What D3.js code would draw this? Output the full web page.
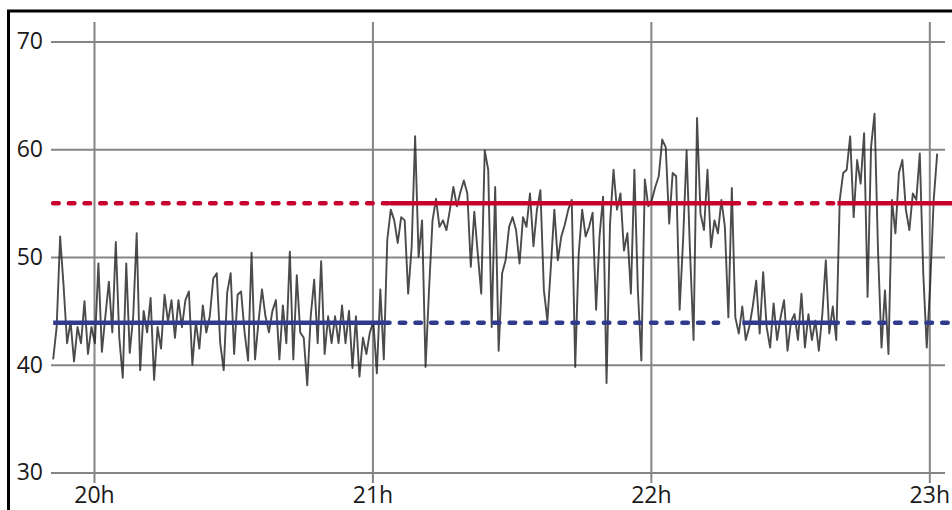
<!DOCTYPE html>
<html>
<head>
<meta charset="utf-8">
<script src="https://cdn.jsdelivr.net/npm/d3@7"></script>
<style>
  body { margin: 0; background: #fff; }
  svg { display: block; }
  .grid line { stroke: #858585; stroke-width: 2; }
  .grid text { fill: #1a1a1a; font-size: 23px; font-family: "Open Sans", sans-serif; }
</style>
</head>
<body>
<svg id="chart"></svg>
<script>
// ---------------- data ----------------
// minutes after 20:00, one reading every 45 s starting at 19:51:12
const startMinute = -8.8;
const stepMinute = 0.75;
const levels = [
  40.5, 43.5, 51.9, 47.3, 42.0, 44.0, 40.3, 43.5, 42.0, 45.9,
  41.0, 43.5, 42.0, 49.4, 41.2, 44.5, 47.7, 43.0, 51.4, 42.5,
  38.8, 49.4, 41.1, 44.5, 52.2, 39.5, 45.0, 43.0, 46.2, 38.6,
  43.5, 41.5, 46.5, 44.0, 46.0, 42.5, 46.0, 43.5, 46.0, 46.8,
  40.0, 44.0, 41.5, 45.5, 43.0, 44.5, 48.0, 48.5, 42.0, 39.5,
  46.7, 48.5, 41.0, 46.5, 46.8, 43.0, 40.4, 50.4, 40.5, 44.0,
  47.0, 44.5, 43.0, 45.0, 46.0, 40.5, 45.5, 42.0, 50.5, 40.5,
  48.3, 43.0, 42.5, 38.1, 44.5, 47.9, 42.0, 49.6, 41.0, 44.5,
  42.0, 44.5, 42.0, 45.5, 42.0, 45.0, 39.7, 44.5, 38.9, 42.5,
  41.0, 43.0, 44.0, 39.2, 47.0, 40.5, 51.6, 54.4, 53.4, 51.3,
  53.7, 53.4, 46.6, 50.9, 61.2, 50.0, 53.4, 39.8, 47.0, 53.4,
  55.4, 52.8, 53.4, 52.5, 54.4, 56.5, 54.7, 56.0, 57.1, 55.9,
  49.1, 54.2, 50.3, 46.6, 59.9, 58.1, 43.5, 56.5, 41.3, 48.5,
  49.7, 52.8, 53.7, 52.5, 49.4, 53.7, 52.8, 55.9, 51.0, 54.4,
  56.2, 46.9, 44.1, 49.1, 54.4, 49.7, 51.9, 53.0, 54.4, 55.3,
  39.8, 50.3, 54.4, 51.9, 52.8, 54.1, 45.1, 52.0, 55.6, 38.3,
  53.1, 58.1, 54.4, 55.9, 50.6, 52.2, 46.6, 58.1, 46.9, 40.4,
  57.2, 54.7, 55.3, 56.5, 57.5, 60.9, 60.2, 53.1, 57.8, 57.5,
  45.1, 51.6, 59.9, 50.3, 42.3, 62.9, 54.0, 52.5, 58.1, 50.9,
  53.4, 52.2, 55.3, 52.8, 44.4, 56.4, 44.4, 42.9, 45.4, 42.3,
  43.5, 45.4, 47.8, 42.9, 48.6, 43.5, 41.6, 45.7, 42.3, 44.4,
  46.0, 41.3, 44.0, 44.7, 42.3, 46.6, 41.6, 44.7, 42.3, 44.1,
  41.3, 44.7, 49.7, 42.9, 45.4, 42.3, 55.3, 57.8, 58.1, 61.2,
  53.7, 59.0, 56.8, 61.5, 46.3, 60.2, 63.3, 50.6, 41.6, 46.9,
  41.0, 55.3, 52.2, 57.8, 59.0, 54.4, 52.5, 55.9, 55.3, 59.6,
  48.5, 41.6, 47.5, 55.3, 59.6
];

// reference levels: [value, from minute, to minute, dashed]
const upperLevel = [
  [55, -8.8, 63.8, true],
  [55, 63.8, 137.8, false],
  [55, 137.8, 160.2, true],
  [55, 160.2, 185, false]
];
const lowerLevel = [
  [43.9, -8.8, 62.5, false],
  [43.9, 62.5, 134.5, true],
  [43.9, 139.7, 159.1, false],
  [43.9, 159.1, 185, true]
];

const yTicks = [30, 40, 50, 60, 70];
const xTicks = [0, 60, 120, 180];
const xTickLabels = ['20h', '21h', '22h', '23h'];

// ---------------- chart ----------------
const width = 952;
const height = 510;

const svg = d3.select('#chart')
    .attr('width', width)
    .attr('height', height);

const x = d3.scaleLinear().domain([0, 180]).range([94, 929.3]);
const y = d3.scaleLinear().domain([30, 70]).range([472.5, 41.5]);

const gridLeft = 51, gridRight = 945, gridTop = 22, gridBottom = 483;

// y grid + labels
svg.append('g')
    .attr('class', 'grid')
    .attr('transform', `translate(${gridLeft},0)`)
    .call(d3.axisLeft(y)
        .tickValues(yTicks)
        .tickSize(-(gridRight - gridLeft))
        .tickPadding(8))
    .call(g => g.select('.domain').remove());

// x grid + labels
svg.append('g')
    .attr('class', 'grid')
    .attr('transform', `translate(0,${gridBottom})`)
    .call(d3.axisBottom(x)
        .tickValues(xTicks)
        .tickFormat((d, i) => xTickLabels[i])
        .tickSize(-(gridBottom - gridTop))
        .tickPadding(4))
    .call(g => g.select('.domain').remove());

// measured series
const line = d3.line()
    .x((d, i) => x(startMinute + i * stepMinute))
    .y(d => y(d));

svg.append('path')
    .datum(levels)
    .attr('fill', 'none')
    .attr('stroke', '#1e1e1e')
    .attr('stroke-width', 1.9)
    .attr('stroke-opacity', 0.8)
    .attr('stroke-linejoin', 'round')
    .attr('d', line);

// reference levels
function drawLevel(segs, color) {
  svg.append('g')
    .selectAll('line')
    .data(segs)
    .join('line')
      .attr('x1', d => x(d[1]))
      .attr('x2', d => x(d[2]))
      .attr('y1', d => y(d[0]))
      .attr('y2', d => y(d[0]))
      .attr('stroke', color)
      .attr('stroke-width', 4.5)
      .attr('stroke-linecap', d => d[3] ? 'round' : 'butt')
      .attr('stroke-dasharray', d => d[3] ? '5.5 10.2' : null);
}
drawLevel(upperLevel, '#c8002e');
drawLevel(lowerLevel, '#313b8e');

// frame (only top and left edges fall inside the picture)
svg.append('rect')
    .attr('x', 8.5)
    .attr('y', 11)
    .attr('width', 1000)
    .attr('height', 600)
    .attr('fill', 'none')
    .attr('stroke', '#000')
    .attr('stroke-width', 3);
</script>
</body>
</html>
